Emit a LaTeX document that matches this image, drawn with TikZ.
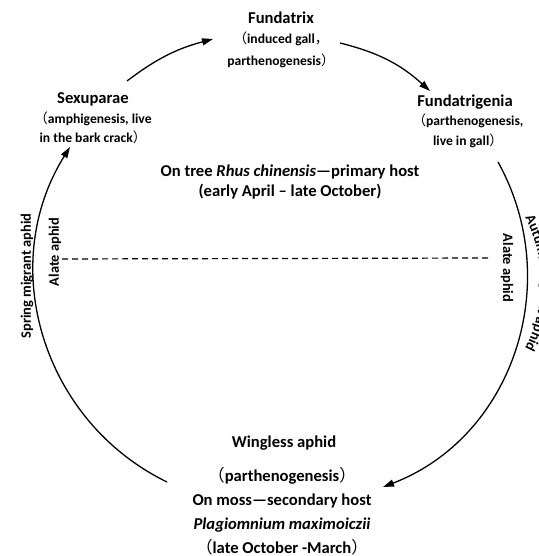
\documentclass[tikz,border=0pt]{standalone}
\usepackage{fontspec}
\setmainfont{Carlito}
\newfontfamily\cjk{Noto Sans CJK SC}
\usetikzlibrary{arrows.meta,decorations.text}
\newcommand{\fwl}{{\cjk\mdseries （}}
\newcommand{\fwr}{{\cjk\mdseries ）}}
\newcommand{\fwc}{{\cjk\mdseries ，}}

\begin{document}
\begin{tikzpicture}[x=1bp,y=1bp,
	stagename/.style={font=\bfseries\fontsize{16.6bp}{19bp}\selectfont, inner sep=0pt},
	stagenote/.style={font=\bfseries\fontsize{13.6bp}{19.5bp}\selectfont, align=center, inner sep=0pt},
	hostnote/.style={font=\bfseries\fontsize{16.6bp}{24bp}\selectfont, align=center, inner sep=0pt},
	wingname/.style={font=\bfseries\fontsize{14.4bp}{16bp}\selectfont, inner sep=0pt},
	cyclearrow/.style={line width=1.3bp, -{Triangle[length=11bp,width=7bp]}}]
				\useasboundingbox (0,0) rectangle (539,556);
				\clip (0,0) rectangle (539,556);
				% stages
				\node[stagename] (fundatrix) at (281,538) {Fundatrix};
				\node[stagenote] (fundatrixnote) at (281,506) {\fwl induced gall\fwc\\[3bp]parthenogenesis\fwr};
				\node[stagename] (sexuparae) at (93,457) {Sexuparae};
				\node[stagenote] (sexuparaenote) at (93,428) {\fwl amphigenesis, live\\in the bark crack\fwr};
				\node[stagename] (fundatrigenia) at (465,454) {Fundatrigenia};
				\node[stagenote] (fundatrigenianote) at (468,425) {\fwl parthenogenesis,\\live in gall\fwr};
				\node[hostnote] (tree) at (290,374) {On tree \textit{Rhus chinensis}—primary host\\[-4bp](early April – late October)};
				\node[stagename] (wingless) at (284,113) {Wingless aphid};
				\node[hostnote] (moss) at (282,45) {\fwl parthenogenesis\fwr\\On moss—secondary host\\\textit{Plagiomnium maximoiczii}\\\fwl late October -March\fwr};
				% winged forms
				\node[wingname, rotate=90] (spring) at (27,280) {Spring migrant aphid};
				\node[wingname, rotate=90] (alateleft) at (55,304) {Alate aphid};
				\node[wingname, rotate=-90] (alateright) at (507,288) {Alate aphid};
				\path[decorate, decoration={text along path, text align=center,
					text={|\bfseries\fontsize{14.4bp}{16bp}\selectfont|Autumn migrant aphid}}]
					(400,273) ++(60:141) arc[start angle=60, end angle=-60, radius=141];
				% cycle
				\coordinate (sxtop) at (127,475);
				\coordinate (fxleft) at (213,517);
				\coordinate (fxright) at (340,513);
				\coordinate (fgtop) at (430,465);
				\coordinate (fgbottom) at (498,394);
				\coordinate (wlright) at (383,69);
				\coordinate (wlleft) at (167,74);
				\coordinate (sxbottom) at (70,409);
				\draw[cyclearrow] (sxtop) to[bend left=11] (fxleft);
				\draw[cyclearrow] (fxright) to[bend left=14] (fgtop);
				\draw[cyclearrow] (fgbottom) to[out=-61, in=21, looseness=1.03] (wlright);
				\draw[cyclearrow] (wlleft) to[out=154, in=238, looseness=1.02] (sxbottom);
				% host boundary
				\coordinate (dashleft) at (62,297);
				\coordinate (dashright) at (490,298);
				\draw[line width=1.2bp, dash pattern=on 6bp off 4bp] (dashleft) -- (dashright);
\end{tikzpicture}
\end{document}
